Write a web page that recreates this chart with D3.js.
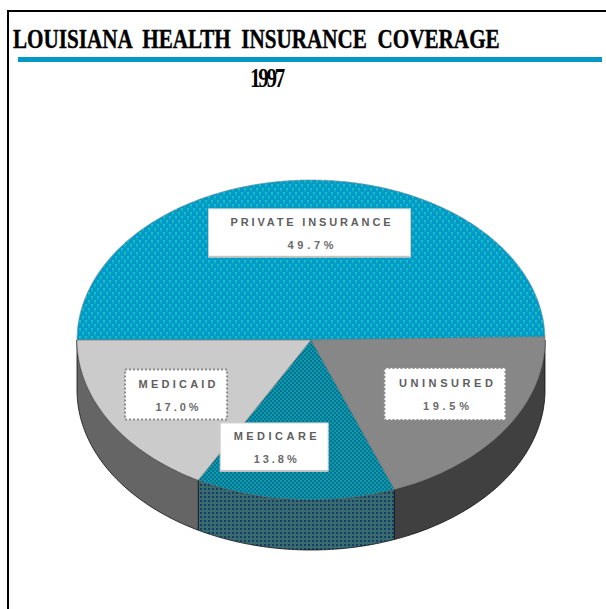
<!DOCTYPE html>
<html>
<head>
<meta charset="utf-8">
<script src="https://cdn.jsdelivr.net/npm/d3@7"></script>
<style>
  html, body { margin: 0; padding: 0; background: #fff; }
  svg { display: block; }
</style>
</head>
<body>
<script>
// Louisiana health insurance coverage, 1997 (share of population, %)
const categories = ["PRIVATE INSURANCE", "UNINSURED", "MEDICARE", "MEDICAID"];
const shares = [49.7, 19.5, 13.8, 17.0];
const shareLabels = ["49.7%", "19.5%", "13.8%", "17.0%"];
const titleText = "LOUISIANA  HEALTH  INSURANCE  COVERAGE";
const yearText = "1997";

const W = 606, H = 609;
const svg = d3.select("body").append("svg").attr("width", W).attr("height", H);
const defs = svg.append("defs");

// fill textures for the tilted pie
function pattern(id, w, h, base, cells) {
  const p = defs.append("pattern").attr("id", id)
    .attr("patternUnits", "userSpaceOnUse").attr("width", w).attr("height", h);
  p.append("rect").attr("width", w).attr("height", h).attr("fill", base);
  cells.forEach(c => p.append("rect").attr("x", c[0]).attr("y", c[1])
    .attr("width", c[2]).attr("height", c[3]).attr("fill", c[4]));
}
pattern("privTop", 6, 8, "#0398c9", [[1, 0, 2, 2, "#10c4c8"], [1, 2, 2, 2, "#07aab6"], [4, 4, 2, 2, "#10c4c8"], [4, 6, 2, 2, "#07aab6"]]);
pattern("mcareTop", 4, 4, "#05709e", [[0, 0, 2, 2, "#0b9ea0"], [2, 2, 2, 2, "#0b9ea0"]]);
pattern("mcareSide", 4, 4, "#3a6c6e", [[0, 0, 2, 2, "#133c6c"]]);

const topFill = ["url(#privTop)", "#878787", "url(#mcareTop)", "#cbcbcb"];
const sideFill = ["#0a6f8f", "#404040", "url(#mcareSide)", "#656565"];

// frame
svg.append("line").attr("x1", 8).attr("x2", W).attr("y1", 11).attr("y2", 11)
  .attr("stroke", "#000").attr("stroke-width", 2);
svg.append("line").attr("x1", 8).attr("x2", 8).attr("y1", 10).attr("y2", H)
  .attr("stroke", "#000").attr("stroke-width", 2);

// condensed heading text: drawn at natural width, then squeezed horizontally to fit
function squeezedText(str, x, baseline, width, size, extra) {
  const t = svg.append("text").attr("x", 0).attr("y", 0)
    .attr("font-family", "'Liberation Serif', 'DejaVu Serif', serif")
    .attr("font-weight", "bold").attr("font-size", size).attr("fill", "#000")
    .style("white-space", "pre").text(str);
  if (extra) extra(t);
  const natural = t.node().getComputedTextLength();
  t.attr("transform", `translate(${x},${baseline}) scale(${width / natural},1)`);
  return t;
}
squeezedText(titleText, 13, 48, 487, 28, t => t.attr("stroke", "#000").attr("stroke-width", 0.4));
svg.append("rect").attr("x", 18).attr("y", 57).attr("width", 584).attr("height", 5)
  .attr("fill", "#0399c6");
squeezedText(yearText, 250, 87, 33, 28, t => t.attr("letter-spacing", -3));

// pie geometry: ellipse top face plus a visible rim
const cx = 311, cy = 340, rx = 234, ry = 160, depth = 50;
const px = a => cx + rx * Math.sin(a);
const py = a => cy - ry * Math.cos(a);

const pie = d3.pie().sort(null).value(d => d)
  .startAngle(-Math.PI / 2).endAngle(3 * Math.PI / 2);
const arcs = pie(shares);

function arcPoints(a0, a1, dy) {
  const n = Math.max(2, Math.ceil(Math.abs(a1 - a0) / 0.02));
  return d3.range(n + 1).map(i => {
    const a = a0 + (a1 - a0) * i / n;
    return [px(a), py(a) + dy];
  });
}
const line = d3.line();

// rim (only the front half of the ellipse is seen)
const gSide = svg.append("g");
arcs.forEach((d, i) => {
  const s = Math.max(d.startAngle, Math.PI / 2);
  const e = Math.min(d.endAngle, 3 * Math.PI / 2);
  if (e <= s) return;
  const pts = arcPoints(s, e, 0).concat(arcPoints(e, s, depth));
  gSide.append("path").attr("d", line(pts) + "Z")
    .attr("fill", sideFill[i]).attr("stroke", "#111").attr("stroke-width", 0.8)
    .attr("stroke-linejoin", "round");
});

// top faces
const gTop = svg.append("g");
arcs.forEach((d, i) => {
  const pts = [[cx, cy]].concat(arcPoints(d.startAngle, d.endAngle, 0));
  gTop.append("path").attr("d", line(pts) + "Z")
    .attr("fill", topFill[i]).attr("stroke", i === 0 ? "#7a8a96" : "#6f6f6f")
    .attr("stroke-width", 0.6);
});

// slice labels in white boxes
const boxSize = [[202, 48], [121, 52], [108, 48], [102, 50]];
const nameWidth = [160, 94, 83, 77];
const valueWidth = [46, 46, 43, 43];
const nudge = [[0, 0], [4, -6], [-26, 0], [0, 0]];
const dotted = [false, true, false, true];
const gLab = svg.append("g");
arcs.forEach((d, i) => {
  const mid = (d.startAngle + d.endAngle) / 2;
  const f = 0.67;
  const mx = cx + rx * f * Math.sin(mid) + nudge[i][0];
  const my = cy - ry * f * Math.cos(mid) + nudge[i][1];
  const [bw, bh] = boxSize[i];
  const g = gLab.append("g").attr("transform", `translate(${mx - bw / 2},${my - bh / 2})`);
  if (dotted[i]) {
    g.append("rect").attr("width", bw).attr("height", bh).attr("fill", "#fff")
      .attr("stroke", "#8c8c8c").attr("stroke-width", 2).attr("stroke-dasharray", "2,2");
  } else {
    g.append("rect").attr("width", bw).attr("height", bh).attr("fill", "#fff")
      .attr("stroke", "#cfcfcf").attr("stroke-width", 1);
    g.append("rect").attr("x", 0).attr("y", bh - 1).attr("width", bw).attr("height", 2)
      .attr("fill", "#c4c4c4");
  }
  g.append("text").attr("x", bw / 2 - nameWidth[i] / 2 + 1).attr("y", bh / 2 - 7)
    .attr("textLength", nameWidth[i]).attr("lengthAdjust", "spacing")
    .attr("font-family", "'Liberation Sans', Arial, sans-serif").attr("font-size", 11)
    .attr("font-weight", "bold").attr("fill", "#5e5e5e").text(categories[i]);
  g.append("text").attr("x", bw / 2 - valueWidth[i] / 2 + 1).attr("y", bh / 2 + 16)
    .attr("textLength", valueWidth[i]).attr("lengthAdjust", "spacing")
    .attr("font-family", "'Liberation Sans', Arial, sans-serif").attr("font-size", 11)
    .attr("font-weight", "bold").attr("fill", "#6a6a6a").text(shareLabels[i]);
});
</script>
</body>
</html>
